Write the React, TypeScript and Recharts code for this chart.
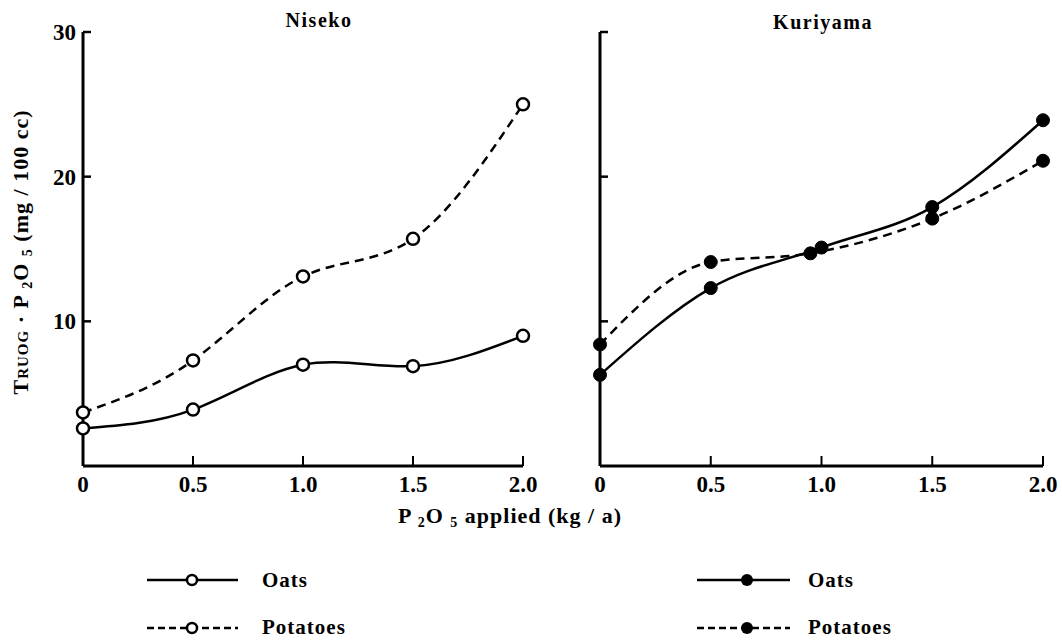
import React from 'react';
import { LineChart, Line, XAxis, YAxis } from 'recharts';

const xTicks = [0, 0.5, 1, 1.5, 2];
const xTickLabels = ['0', '0.5', '1.0', '1.5', '2.0'];
const yTicks = [10, 20, 30];

const nisekoOats = [
  { x: 0, y: 2.6 },
  { x: 0.5, y: 3.9 },
  { x: 1.0, y: 7.0 },
  { x: 1.5, y: 6.9 },
  { x: 2.0, y: 9.0 },
];
const nisekoPotatoes = [
  { x: 0, y: 3.7 },
  { x: 0.5, y: 7.3 },
  { x: 1.0, y: 13.1 },
  { x: 1.5, y: 15.7 },
  { x: 2.0, y: 25.0 },
];
const kuriyamaOats = [
  { x: 0, y: 6.3 },
  { x: 0.5, y: 12.3 },
  { x: 1.0, y: 15.1 },
  { x: 1.5, y: 17.9 },
  { x: 2.0, y: 23.9 },
];
const kuriyamaPotatoes = [
  { x: 0, y: 8.4 },
  { x: 0.5, y: 14.1 },
  { x: 0.95, y: 14.7 },
  { x: 1.5, y: 17.1 },
  { x: 2.0, y: 21.1 },
];

const FONT = '"Liberation Serif", "DejaVu Serif", serif';

const YTick = (props: any) => {
  const { x, y, payload, showLabel } = props;
  return (
    <g>
      <line x1={x} x2={x + 8} y1={y} y2={y} stroke="#000" strokeWidth={2.5} />
      {showLabel && (
        <text x={x - 7} y={y} dy={8} textAnchor="end" fontFamily={FONT} fontWeight="bold" fontSize={23} fill="#000">
          {payload.value}
        </text>
      )}
    </g>
  );
};

const XTick = (props: any) => {
  const { x, y, payload } = props;
  const idx = xTicks.indexOf(payload.value);
  return (
    <g>
      {payload.value !== 0 && <line x1={x} x2={x} y1={y} y2={y - 10} stroke="#000" strokeWidth={2} />}
      <text x={x} y={y + 26} textAnchor="middle" fontFamily={FONT} fontWeight="bold" fontSize={23} fill="#000">
        {idx >= 0 ? xTickLabels[idx] : payload.value}
      </text>
    </g>
  );
};

const openDot = { r: 6, fill: '#fff', stroke: '#000', strokeWidth: 2.5, strokeDasharray: '0' };
const filledDot = { r: 6.5, fill: '#000', stroke: '#000', strokeWidth: 1, strokeDasharray: '0' };

const Panel = ({ oats, potatoes, filled, showLabels, marginLeft, marginRight, width, curve }: any) => (
  <LineChart
    width={width}
    height={500}
    margin={{ top: 32, right: marginRight, bottom: 4, left: marginLeft }}
  >
    <XAxis
      type="number"
      dataKey="x"
      domain={[0, 2]}
      ticks={xTicks}
      height={30}
      tickSize={0}
      tickMargin={0}
      tickLine={false}
      axisLine={{ stroke: '#000', strokeWidth: 3 }}
      tick={(p: any) => <XTick {...p} />}
      interval={0}
      allowDuplicatedCategory={false}
    />
    <YAxis
      type="number"
      domain={[0, 30]}
      ticks={yTicks}
      width={40}
      tickSize={0}
      tickMargin={0}
      tickLine={false}
      axisLine={{ stroke: '#000', strokeWidth: 3 }}
      tick={(p: any) => <YTick {...p} showLabel={showLabels} />}
      interval={0}
    />
    <Line
      data={potatoes}
      dataKey="y"
      type={curve}
      stroke="#000"
      strokeWidth={2.5}
      strokeDasharray="9 6"
      dot={filled ? filledDot : openDot}
      activeDot={false}
      isAnimationActive={false}
    />
    <Line
      data={oats}
      dataKey="y"
      type={curve}
      stroke="#000"
      strokeWidth={2.5}
      dot={filled ? filledDot : openDot}
      activeDot={false}
      isAnimationActive={false}
    />
  </LineChart>
);

const txt = { fontFamily: FONT, fontWeight: 'bold' as const, fill: '#000' };

export default function App() {
  return (
    <div style={{ position: 'absolute', left: 0, top: 0, width: 1062, height: 640, background: '#fff', overflow: 'hidden' }}>
      <div style={{ position: 'absolute', left: 0, top: 0 }}>
        <Panel oats={nisekoOats} potatoes={nisekoPotatoes} filled={false} showLabels={true}
          width={560} marginLeft={43} marginRight={37} curve="natural" />
      </div>
      <div style={{ position: 'absolute', left: 540, top: 0 }}>
        <Panel oats={kuriyamaOats} potatoes={kuriyamaPotatoes} filled={true} showLabels={false}
          width={522} marginLeft={20} marginRight={19} curve="monotone" />
      </div>
      <svg width={1062} height={640} style={{ position: 'absolute', left: 0, top: 0, pointerEvents: 'none' }}>
        <text x={319} y={27} textAnchor="middle" fontSize={20} letterSpacing={1.5} {...txt}>Niseko</text>
        <text x={823} y={29} textAnchor="middle" fontSize={20} letterSpacing={1.5} {...txt}>Kuriyama</text>
        <g transform="translate(28,252) rotate(-90)">
          <text x={0} y={0} textAnchor="middle" fontSize={22} letterSpacing={1} {...txt}>
            <tspan style={{ fontVariant: 'small-caps' }}>Truog</tspan>
            <tspan>{' · P '}</tspan>
            <tspan fontSize={14} dy={4}>2</tspan>
            <tspan dy={-4}>{'O '}</tspan>
            <tspan fontSize={14} dy={4}>5</tspan>
            <tspan dy={-4}>{'  (mg / 100 cc)'}</tspan>
          </text>
        </g>
        <text x={510} y={523} textAnchor="middle" fontSize={22} letterSpacing={1} {...txt}>
          <tspan>{'P '}</tspan>
          <tspan fontSize={14} dy={4}>2</tspan>
          <tspan dy={-4}>{'O '}</tspan>
          <tspan fontSize={14} dy={4}>5</tspan>
          <tspan dy={-4}>{' applied  (kg / a)'}</tspan>
        </text>
        {/* Left legend */}
        <line x1={147} x2={238} y1={580} y2={580} stroke="#000" strokeWidth={2.5} />
        <circle cx={192} cy={580} r={5} fill="#fff" stroke="#000" strokeWidth={2.5} />
        <text x={262} y={587} fontSize={21} letterSpacing={1} {...txt}>Oats</text>
        <line x1={147} x2={238} y1={628} y2={628} stroke="#000" strokeWidth={2.5} strokeDasharray="7 4" />
        <circle cx={192} cy={628} r={5} fill="#fff" stroke="#000" strokeWidth={2.5} />
        <text x={262} y={634} fontSize={21} letterSpacing={1} {...txt}>Potatoes</text>
        {/* Right legend */}
        <line x1={697} x2={790} y1={580} y2={580} stroke="#000" strokeWidth={2.5} />
        <circle cx={747} cy={580} r={6} fill="#000" />
        <text x={808} y={587} fontSize={21} letterSpacing={1} {...txt}>Oats</text>
        <line x1={697} x2={790} y1={628} y2={628} stroke="#000" strokeWidth={2.5} strokeDasharray="7 4" />
        <circle cx={747} cy={628} r={6} fill="#000" />
        <text x={808} y={634} fontSize={21} letterSpacing={1} {...txt}>Potatoes</text>
      </svg>
    </div>
  );
}
